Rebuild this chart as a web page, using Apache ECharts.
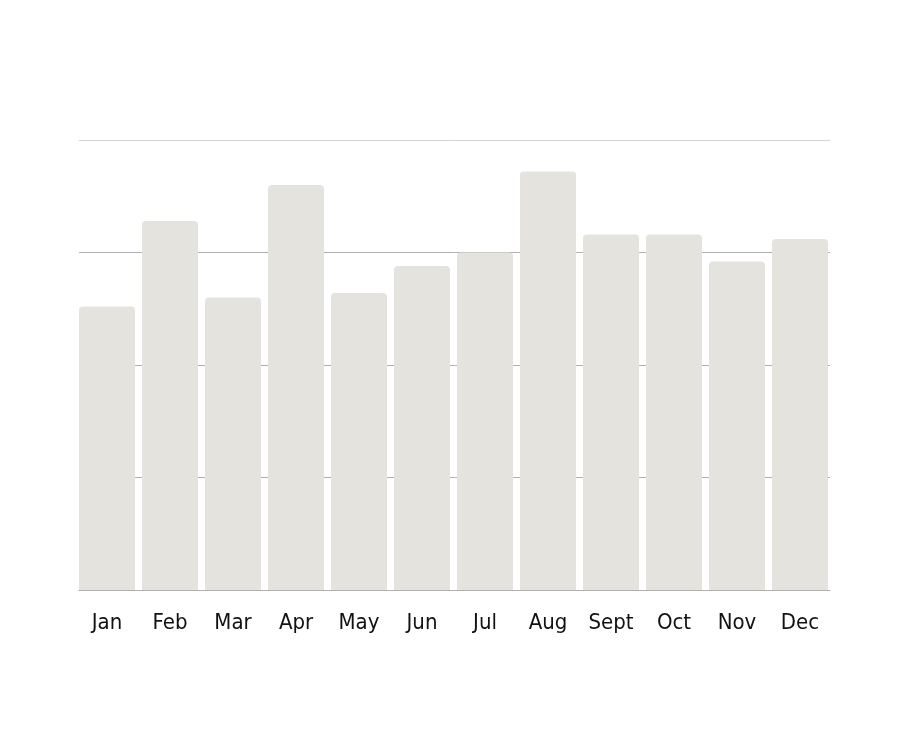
<!DOCTYPE html>
<html><head><meta charset="utf-8">
<script src="https://cdn.jsdelivr.net/npm/echarts@6/dist/echarts.min.js"></script>
<style>html,body{margin:0;padding:0;background:#fff}#c{width:900px;height:750px}</style>
</head><body><div id="c"></div>
<script>
const categories = ['Jan','Feb','Mar','Apr','May','Jun','Jul','Aug','Sept','Oct','Nov','Dec'];
const values = [63, 82, 65, 90, 66, 72, 75, 93, 79, 79, 73, 78];
const yMin = 0, yMax = 100, yInterval = 25;

const chart = echarts.init(document.getElementById('c'));
chart.setOption({
  animation: false,
  grid: [
    { left: 79, right: 70, top: 140, bottom: 160 },
    { left: 75.5, right: 68.5, top: 140, bottom: 160 }
  ],
  xAxis: [{
    type: 'category', data: categories, gridIndex: 0,
    axisLine: { show: true, lineStyle: { color: '#b0b0b0', width: 1 } },
    axisTick: { show: false }, axisLabel: { show: false }
  }, {
    type: 'category', data: categories, gridIndex: 1,
    axisLine: { show: false }, axisTick: { show: false },
    axisLabel: { color: '#111', fontSize: 22, margin: 22, fontFamily: "'DejaVu Sans Condensed','Liberation Sans Narrow',sans-serif" }
  }],
  yAxis: [{
    type: 'value', min: yMin, max: yMax, interval: yInterval, gridIndex: 0,
    axisLabel: { show: false }, axisLine: { show: false }, axisTick: { show: false },
    splitLine: { lineStyle: { color: ['#b0b0b0','#b0b0b0','#b0b0b0','#b0b0b0','#d4d4d4'], width: 1 } }
  }, {
    type: 'value', min: yMin, max: yMax, interval: yInterval, gridIndex: 1,
    axisLabel: { show: false }, axisLine: { show: false }, axisTick: { show: false },
    splitLine: { show: false }
  }],
  series: [{
    type: 'bar', data: values, xAxisIndex: 1, yAxisIndex: 1, barCategoryGap: '11.1%',
    itemStyle: { color: '#e4e3dd', borderRadius: [4,4,0,0] }
  }]
});
</script></body></html>
